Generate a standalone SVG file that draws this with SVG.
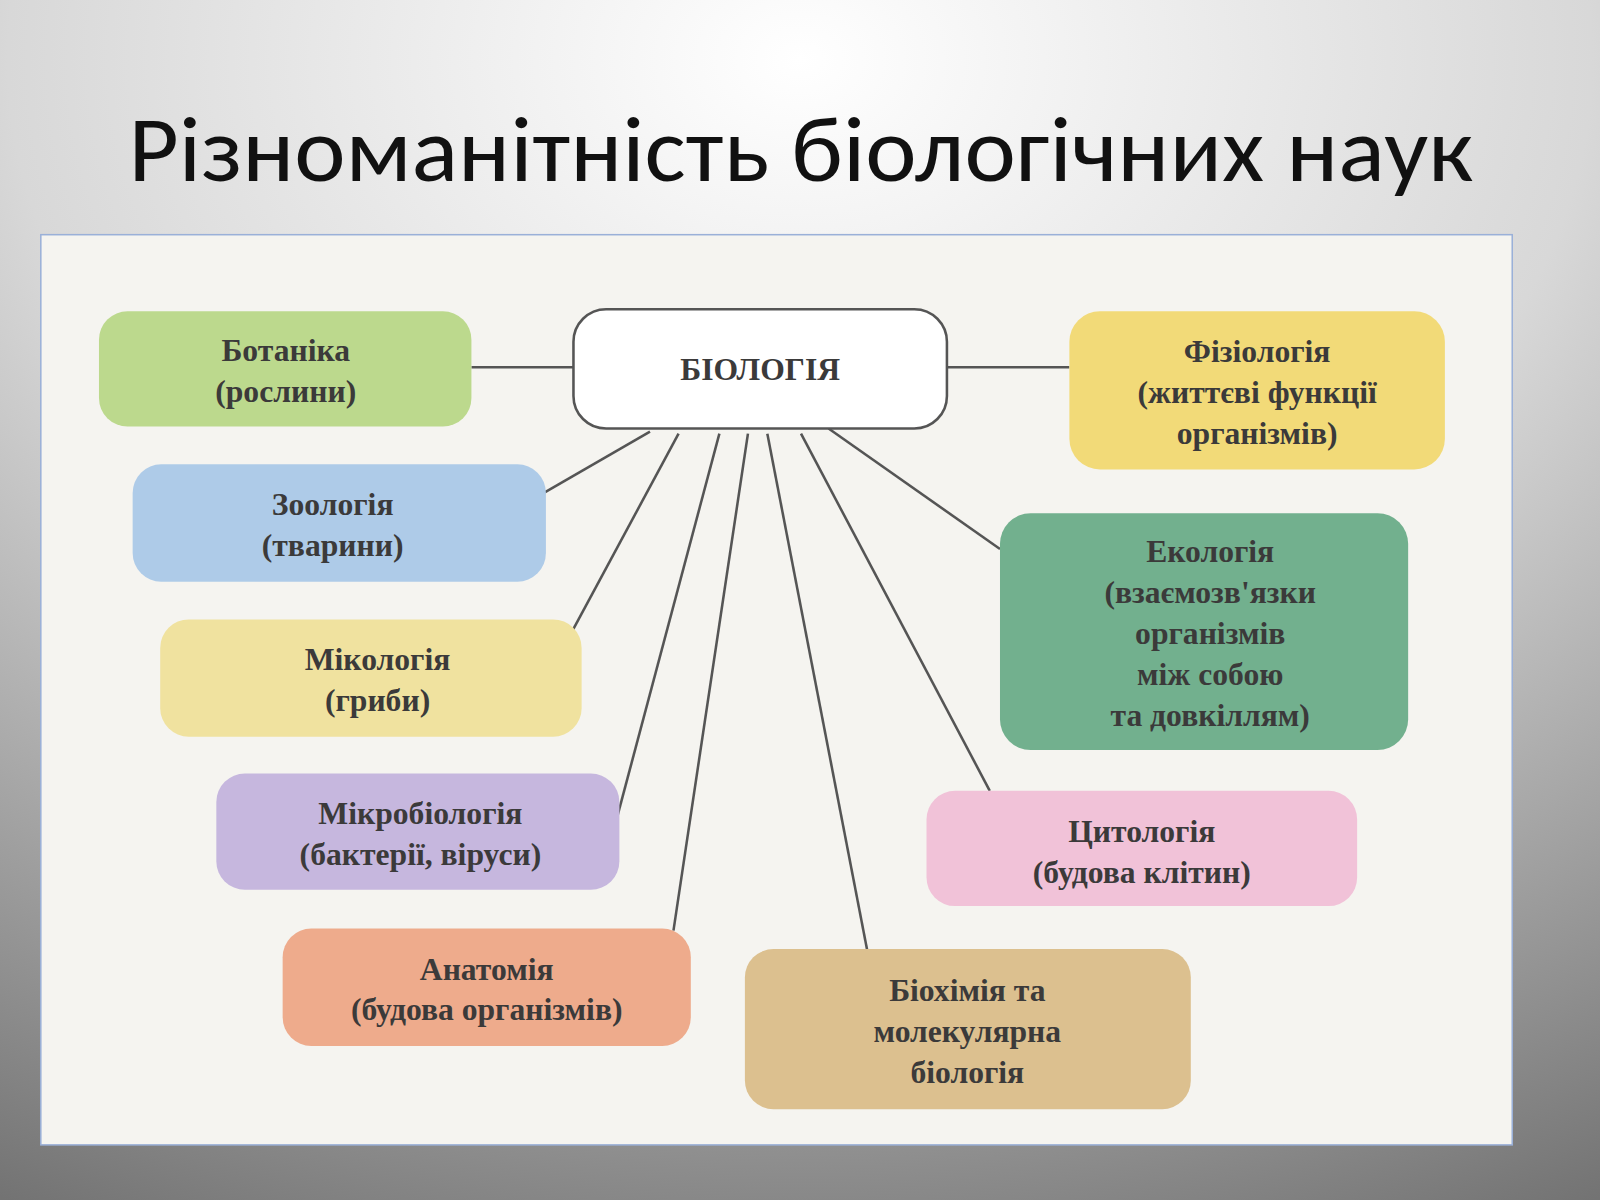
<svg xmlns="http://www.w3.org/2000/svg" width="1600" height="1200" viewBox="0 0 1600 1200">
<defs>
<radialGradient id="bg" cx="0.5" cy="0.05" r="1.1">
<stop offset="0" stop-color="#ffffff"/><stop offset="0.45" stop-color="#d8d8d8"/><stop offset="1" stop-color="#6e6e6e"/>
</radialGradient>
<style>
.n{stroke:none}
.t{font-family:"Liberation Serif",serif;font-weight:bold;font-size:31px;fill:#3b3a3a;text-anchor:middle}
.c line{stroke:#555;stroke-width:2.5}
</style>
</defs>
<rect width="1600" height="1200" fill="url(#bg)"/>
<g transform="scale(1.0204)">
<text x="785" y="177" font-family="Calibri,'Liberation Sans',sans-serif" font-size="90" text-anchor="middle" fill="#111" textLength="1318" lengthAdjust="spacingAndGlyphs">Різноманітність біологічних наук</text>
<rect x="40" y="230" width="1442" height="892" fill="#f5f4f0" stroke="#9ab0d8" stroke-width="1.5"/>
<g class="c">
<line x1="462" y1="360" x2="562" y2="360"/>
<line x1="928" y1="360" x2="1048" y2="360"/>
<line x1="637" y1="423" x2="533" y2="483"/>
<line x1="665" y1="425" x2="560" y2="620"/>
<line x1="705" y1="425" x2="605" y2="800"/>
<line x1="733" y1="425" x2="660" y2="912"/>
<line x1="752" y1="425" x2="850" y2="932"/>
<line x1="785" y1="425" x2="970" y2="775"/>
<line x1="812" y1="420" x2="980" y2="538"/>
</g>
<g id="bio"><rect x="562" y="303" width="366" height="117" rx="32" fill="#fff" stroke="#555" stroke-width="2.5"/><text class="t" x="745" y="372">БІОЛОГІЯ</text></g>
<g id="bot"><rect class="n" x="97" y="305" width="365" height="113" rx="28" fill="#bcd98d"/><text class="t" x="280" y="354">Ботаніка</text><text class="t" x="280" y="394">(рослини)</text></g>
<g id="zoo"><rect class="n" x="130" y="455" width="405" height="115" rx="28" fill="#aecbe8"/><text class="t" x="326" y="505">Зоологія</text><text class="t" x="326" y="545">(тварини)</text></g>
<g id="myc"><rect class="n" x="157" y="607" width="413" height="115" rx="28" fill="#f0e29f"/><text class="t" x="370" y="657">Мікологія</text><text class="t" x="370" y="697">(гриби)</text></g>
<g id="micro"><rect class="n" x="212" y="758" width="395" height="114" rx="28" fill="#c6b7de"/><text class="t" x="412" y="808">Мікробіологія</text><text class="t" x="412" y="848">(бактерії, віруси)</text></g>
<g id="anat"><rect class="n" x="277" y="910" width="400" height="115" rx="28" fill="#eeab8c"/><text class="t" x="477" y="960">Анатомія</text><text class="t" x="477" y="1000">(будова організмів)</text></g>
<g id="bioch"><rect class="n" x="730" y="930" width="437" height="157" rx="28" fill="#dcc08f"/><text class="t" x="948" y="981">Біохімія та</text><text class="t" x="948" y="1021">молекулярна</text><text class="t" x="948" y="1061">біологія</text></g>
<g id="cyto"><rect class="n" x="908" y="775" width="422" height="113" rx="28" fill="#f1c2d8"/><text class="t" x="1119" y="825">Цитологія</text><text class="t" x="1119" y="865">(будова клітин)</text></g>
<g id="eco"><rect class="n" x="980" y="503" width="400" height="232" rx="30" fill="#72b08e"/><text class="t" x="1186" y="551">Екологія</text><text class="t" x="1186" y="591">(взаємозв'язки</text><text class="t" x="1186" y="631">організмів</text><text class="t" x="1186" y="671">між собою</text><text class="t" x="1186" y="711">та довкіллям)</text></g>
<g id="phys"><rect class="n" x="1048" y="305" width="368" height="155" rx="30" fill="#f2da78"/><text class="t" x="1232" y="355">Фізіологія</text><text class="t" x="1232" y="395">(життєві функції</text><text class="t" x="1232" y="435">організмів)</text></g>
</g>
</svg>
